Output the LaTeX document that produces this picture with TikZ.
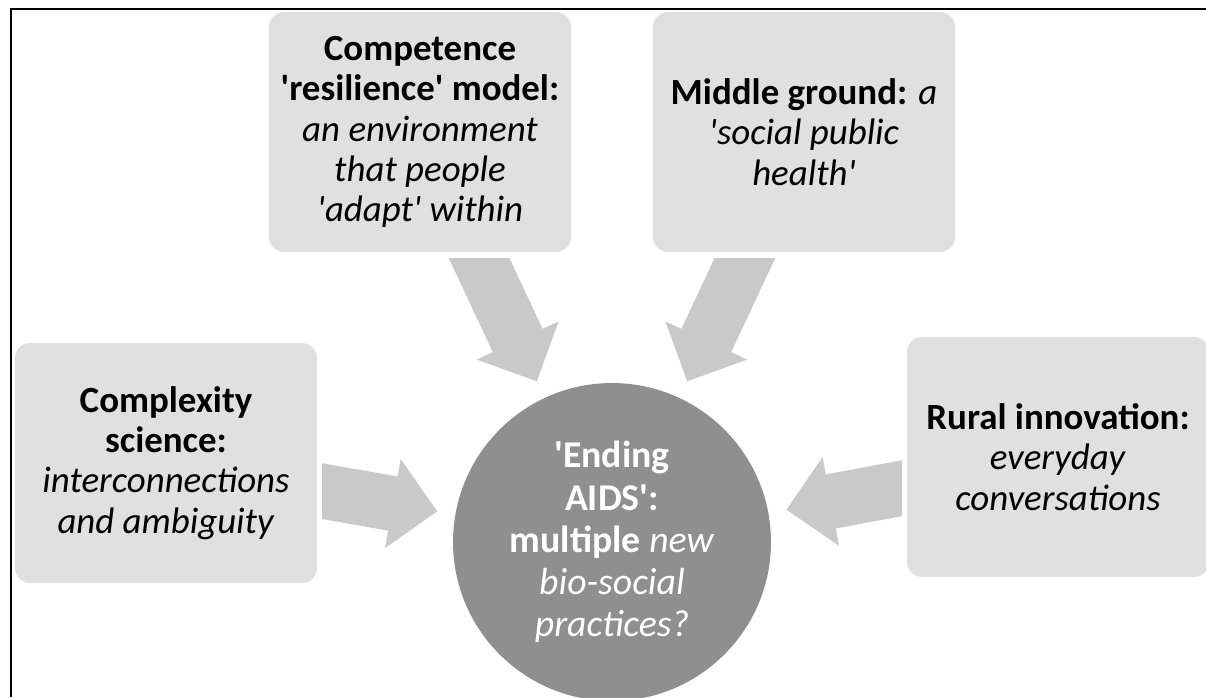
\documentclass[tikz,border=0pt]{standalone}
\usepackage{fontspec}
\setmainfont{Carlito}
\usetikzlibrary{arrows.meta}
\definecolor{boxgray}{RGB}{224,224,224}
\definecolor{arrowgray}{RGB}{201,201,201}
\definecolor{hubgray}{RGB}{143,143,143}
\newcommand{\tick}{\textquotesingle}

\begin{document}
\begin{tikzpicture}[x=0.02cm, y=-0.02cm,
        idea/.style={fill=boxgray, rounded corners=0.3cm, minimum width=6.04cm, minimum height=4.8cm, inner sep=0pt, align=center, font=\fontsize{21}{23}\selectfont},
        hub/.style={circle, fill=hubgray, minimum size=6.36cm, inner sep=0pt, outer sep=0pt, align=center, text=white, font=\fontsize{21.5}{24}\selectfont},
        fat/.style={arrowgray, line width=1.1cm, shorten >=1.25cm,
            postaction={draw=arrowgray, line width=0.2pt, shorten >=0.37cm, -{Triangle[length=0.9cm, width=1.8cm]}}}]
                \useasboundingbox (0,0) rectangle (1206,697);
                \draw[line width=0.05cm] (11,697) -- (11,9) -- (1206,9);
                \node[idea] (comp) at (420,132) {\textbf{Competence}\\\textbf{\tick resilience\tick{} model:}\\\textit{an environment}\\\textit{that people}\\\textit{\tick adapt\tick{} within}};
                \node[idea] (mid) at (804,132) {\textbf{Middle ground:} \textit{a}\\\textit{\tick social public}\\\textit{health\tick}};
                \node[idea] (cplx) at (166,463) {\textbf{Complexity}\\\textbf{science:}\\\textit{interconnections}\\\textit{and ambiguity}};
                \node[idea] (rural) at (1058,457) {\textbf{Rural innovation:}\\\textit{everyday}\\\textit{conversations}};
                \node[hub] (aids) at (612,542) {\textbf{\tick Ending}\\\textbf{AIDS\tick:}\\\textbf{multiple} \textit{new}\\\textit{bio-social}\\\textit{practices?}};
                \coordinate (a1) at (473,245);
                \coordinate (a2) at (751,245);
                \coordinate (a3) at (310,489);
                \coordinate (a4) at (914,486);
                \scope
                    \clip (322,258) rectangle (902,697);
                    \draw[fat] (a1) -- (aids);
                    \draw[fat] (a2) -- (aids);
                    \draw[fat] (a3) -- (aids);
                    \draw[fat] (a4) -- (aids);
                \endscope
            \end{tikzpicture}
\end{document}
